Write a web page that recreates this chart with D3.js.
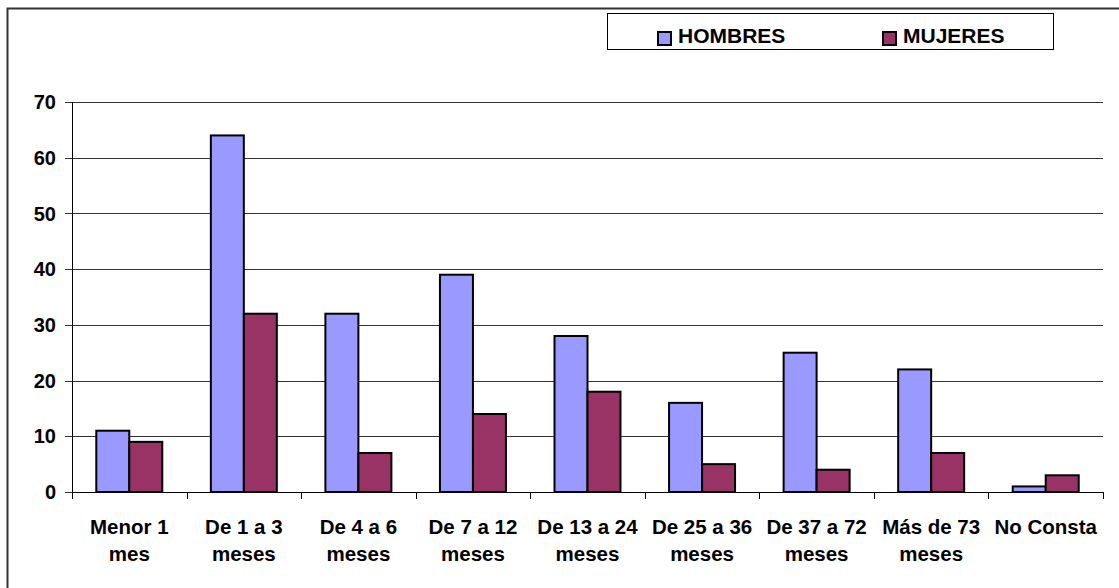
<!DOCTYPE html>
<html>
<head>
<meta charset="utf-8">
<script src="https://cdn.jsdelivr.net/npm/d3@7"></script>
<style>
  body { margin: 0; background: #fff; }
  svg text { font-family: "Liberation Sans", Arial, sans-serif; font-weight: bold; fill: #000; }
</style>
</head>
<body>
<div id="chart"></div>
<script>
// categories and values
const categories = [
    ["Menor 1", "mes"],
    ["De 1 a 3", "meses"],
    ["De 4 a 6", "meses"],
    ["De 7 a 12", "meses"],
    ["De 13 a 24", "meses"],
    ["De 25 a 36", "meses"],
    ["De 37 a 72", "meses"],
    ["Más de 73", "meses"],
    ["No Consta"]
];
const seriesNames = ["HOMBRES", "MUJERES"];
const hombres = [11, 64, 32, 39, 28, 16, 25, 22, 1];
const mujeres = [9, 32, 7, 14, 18, 5, 4, 7, 3];
const yTicks = [0, 10, 20, 30, 40, 50, 60, 70];
const colors = ["#9999FF", "#993366"];

const width = 1119, height = 588;
const margin = { top: 102, right: 16, bottom: 96, left: 72 };

const svg = d3.select("#chart")
    .append("svg")
    .attr("width", width)
    .attr("height", height);

// outer chart frame (runs past the right and bottom edge)
svg.append("rect")
    .attr("x", 7.5)
    .attr("y", 8.5)
    .attr("width", 1130)
    .attr("height", 600)
    .attr("fill", "none")
    .attr("stroke", "#333")
    .attr("stroke-width", 2);

const x0 = d3.scaleBand()
    .domain(categories.map((d, i) => i))
    .range([margin.left, width - margin.right])
    .paddingInner(0)
    .paddingOuter(0);

const x1 = d3.scaleBand()
    .domain(seriesNames)
    .range([x0.bandwidth() * 0.212, x0.bandwidth() * 0.788]);

const y = d3.scaleLinear()
    .domain([0, 70])
    .range([height - margin.bottom, margin.top]);

// gridlines
svg.append("g")
    .selectAll("line")
    .data(yTicks)
    .enter()
    .append("line")
    .attr("x1", margin.left - 7)
    .attr("x2", width - margin.right)
    .attr("y1", d => Math.round(y(d)) + 0.5)
    .attr("y2", d => Math.round(y(d)) + 0.5)
    .attr("stroke", "#333")
    .attr("stroke-width", 1);

// y tick labels
svg.append("g")
    .selectAll("text")
    .data(yTicks)
    .enter()
    .append("text")
    .attr("x", margin.left - 16)
    .attr("y", d => y(d))
    .attr("dy", "0.36em")
    .attr("text-anchor", "end")
    .attr("font-size", "20px")
    .text(d => d);

// bars
const data = categories.map((c, i) => [hombres[i], mujeres[i]]);
const groups = svg.append("g")
    .selectAll("g")
    .data(data)
    .enter()
    .append("g")
    .attr("transform", (d, i) => `translate(${x0(i)},0)`);

groups.selectAll("rect")
    .data(d => d.map((v, j) => ({ name: seriesNames[j], value: v, color: colors[j] })))
    .enter()
    .append("rect")
    .attr("x", d => x1(d.name))
    .attr("y", d => y(d.value))
    .attr("width", x1.bandwidth())
    .attr("height", d => y(0) - y(d.value))
    .attr("fill", d => d.color)
    .attr("stroke", "#000")
    .attr("stroke-width", 2);

// y axis line
svg.append("line")
    .attr("x1", margin.left + 0.5)
    .attr("x2", margin.left + 0.5)
    .attr("y1", y(70))
    .attr("y2", y(0) + 7)
    .attr("stroke", "#000");

// x axis line + ticks
svg.append("line")
    .attr("x1", margin.left)
    .attr("x2", width - margin.right)
    .attr("y1", Math.round(y(0)) + 0.5)
    .attr("y2", Math.round(y(0)) + 0.5)
    .attr("stroke", "#000");

svg.append("g")
    .selectAll("line")
    .data(categories.map((d, i) => i).concat([categories.length]))
    .enter()
    .append("line")
    .attr("x1", d => Math.round(d < categories.length ? x0(d) : x0.range()[1]) + 0.5)
    .attr("x2", d => Math.round(d < categories.length ? x0(d) : x0.range()[1]) + 0.5)
    .attr("y1", y(0))
    .attr("y2", y(0) + 7)
    .attr("stroke", "#000");

// category labels
const catLabels = svg.append("g")
    .selectAll("text")
    .data(categories)
    .enter()
    .append("text")
    .attr("x", (d, i) => x0(i) + x0.bandwidth() / 2)
    .attr("y", 534)
    .attr("text-anchor", "middle")
    .attr("font-size", "20.5px");

catLabels.selectAll("tspan")
    .data(d => d)
    .enter()
    .append("tspan")
    .attr("x", function () { return d3.select(this.parentNode).attr("x"); })
    .attr("dy", (d, i) => i === 0 ? 0 : 27)
    .text(d => d);

// legend
const legend = svg.append("g");
legend.append("rect")
    .attr("x", 607.5)
    .attr("y", 13.5)
    .attr("width", 446)
    .attr("height", 36)
    .attr("fill", "#fff")
    .attr("stroke", "#000");

const legendX = [658, 883];
seriesNames.forEach((name, i) => {
    legend.append("rect")
        .attr("x", legendX[i])
        .attr("y", 32)
        .attr("width", 13)
        .attr("height", 13)
        .attr("fill", colors[i])
        .attr("stroke", "#000")
        .attr("stroke-width", 2);
    legend.append("text")
        .attr("x", legendX[i] + 20)
        .attr("y", 42.5)
        .attr("font-size", "21px")
        .text(name);
});
</script>
</body>
</html>
